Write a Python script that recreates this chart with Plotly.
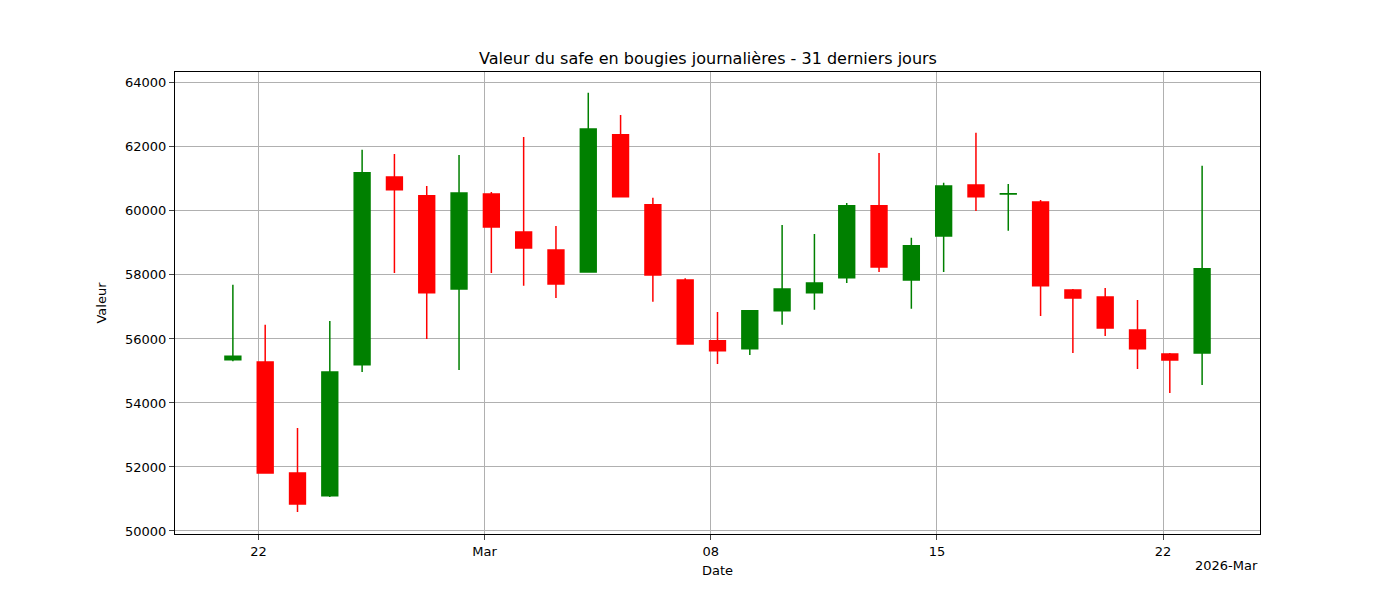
import pandas as pd
import plotly.graph_objects as go

dates = pd.date_range("2026-02-21", "2026-03-23", freq="D")
opens = [55350, 55280, 51810, 51100, 55190, 61060, 60470, 57560, 60530, 59340,
         58780, 58090, 62380, 60190, 57840, 55940, 55690, 56880, 57440, 57910,
         60160, 57840, 59220, 60810, 60530, 60280, 57530, 57310, 56280, 55530, 55560]
highs = [57690, 56440, 53220, 56560, 61910, 61780, 60780, 61750, 60590, 62310,
         59530, 63690, 63000, 60410, 57900, 56840, 56900, 59560, 59280, 60250,
         61810, 59160, 60880, 62440, 60840, 60340, 57560, 57590, 57220, 55560, 61410]
lows = [55300, 51800, 50590, 51060, 54970, 58060, 56000, 55030, 58060, 57660,
        57280, 58090, 60420, 57160, 55820, 55220, 55500, 56440, 56910, 57750,
        58090, 56940, 58090, 60000, 59380, 56720, 55560, 56090, 55060, 54310, 54560]
closes = [55460, 51810, 50840, 54970, 61190, 60660, 57440, 60560, 59500, 58840,
          57720, 62560, 60440, 58000, 55840, 55630, 56880, 57560, 57750, 60160,
          58250, 58910, 60780, 60440, 60540, 57660, 57280, 56340, 55690, 55340, 58190]

tick_dates = ["2026-02-22", "2026-03-01", "2026-03-08", "2026-03-15", "2026-03-22"]
tick_labels = ["22", "Mar", "08", "15", "22"]

x = dates + pd.Timedelta(hours=5)

fig = go.Figure(go.Candlestick(
    x=x, open=opens, high=highs, low=lows, close=closes,
    increasing=dict(line=dict(color="green", width=1.5), fillcolor="green"),
    decreasing=dict(line=dict(color="red", width=1.5), fillcolor="red"),
    whiskerwidth=0, showlegend=False,
))

axis = dict(showline=True, linecolor="black", mirror=True, ticks="outside",
            showgrid=True, gridcolor="#b0b0b0", zeroline=False,
            tickfont=dict(size=13, color="black"))
fig.update_layout(
    width=1400, height=600,
    plot_bgcolor="white", paper_bgcolor="white",
    font=dict(family="DejaVu Sans", size=13, color="black"),
    margin=dict(l=167, r=148, t=64, b=74),
    title=dict(text="Valeur du safe en bougies journalières - 31 derniers jours",
               x=0.5, xanchor="center", y=0.925, font=dict(size=16)),
    xaxis=dict(axis, rangeslider=dict(visible=False), type="date",
               range=["2026-02-19 10:00", "2026-03-25 00:00"],
               tickvals=tick_dates, ticktext=tick_labels,
               title=dict(text="Date", standoff=8, font=dict(size=13))),
    yaxis=dict(axis, range=[49906, 64340], tickvals=list(range(50000, 64001, 2000)),
               tickformat="d",
               title=dict(text="Valeur", font=dict(size=13))),
    annotations=[dict(text="2026-Mar", xref="paper", yref="paper", x=1, y=0,
                      xanchor="right", yanchor="top", yshift=-22, showarrow=False,
                      font=dict(size=13))],
)

fig.write_html("out.html")
